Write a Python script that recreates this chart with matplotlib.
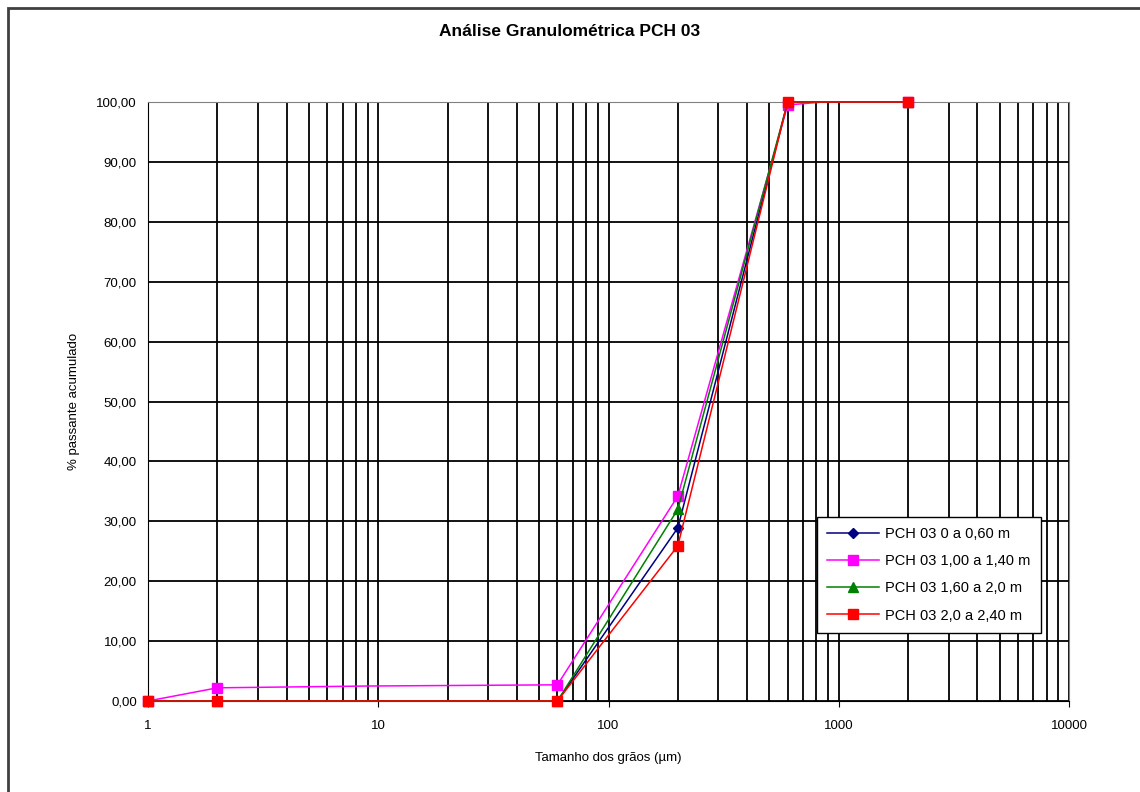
import matplotlib
matplotlib.use("Agg")
import matplotlib.pyplot as plt
from matplotlib.patches import Rectangle
from matplotlib.ticker import FuncFormatter, LogLocator, FixedLocator

plt.rcParams['font.family'] = ['Liberation Sans', 'DejaVu Sans']

# dados
x_base = [1, 2, 60, 200, 600, 2000]
y_0_060 = [0, 0, 0, 28.9, 100, 100]
x_mag = [1, 2, 9, 60, 200, 600, 850, 2000]
y_100_140 = [0, 2.2, 2.5, 2.7, 34.2, 99.5, 100, 100]
y_160_200 = [0, 0, 0, 32.0, 100, 100]
y_200_240 = [0, 0, 0, 25.9, 100, 100]
labels = ['PCH 03 0 a 0,60 m', 'PCH 03 1,00 a 1,40 m',
          'PCH 03 1,60 a 2,0 m', 'PCH 03 2,0 a 2,40 m']

fig = plt.figure(figsize=(11.4, 7.92), dpi=100)
ax = fig.add_axes([148/1140, 91/792, 921/1140, 599/792])

kw = dict(lw=1.1, clip_on=False, zorder=5)
ax.plot(x_base, y_0_060, color='#000080', marker='D', ms=5, label=labels[0], **kw)
ax.plot(x_mag, y_100_140, color='#ff00ff', marker='s', ms=7,
        markevery=[0, 1, 3, 4, 5, 7], label=labels[1], **kw)
ax.plot(x_base, y_160_200, color='#008000', marker='^', ms=7, label=labels[2], **kw)
ax.plot(x_base, y_200_240, color='#ff0000', marker='s', ms=7, label=labels[3], **kw)

ax.set_xscale('log')
ax.set_xlim(1, 10000)
ax.set_ylim(0, 100)
ax.xaxis.set_major_locator(FixedLocator([1, 10, 100, 1000, 10000]))
ax.xaxis.set_major_formatter(FuncFormatter(lambda v, p: '%d' % v))
ax.xaxis.set_minor_locator(LogLocator(base=10, subs=range(2, 10)))
ax.xaxis.set_minor_formatter(FuncFormatter(lambda v, p: ''))
ax.set_yticks(range(0, 101, 10))
ax.yaxis.set_major_formatter(FuncFormatter(lambda v, p: ('%.2f' % v).replace('.', ',')))

ax.grid(True, which='both', axis='x', color='black', lw=1.3)
ax.grid(True, which='major', axis='y', color='black', lw=1.3)
ax.set_axisbelow(True)
ax.tick_params(axis='both', which='major', labelsize=9.5, length=4, color='black')
ax.tick_params(axis='x', which='minor', length=0)
ax.tick_params(axis='y', which='major', length=0, pad=8)
ax.tick_params(axis='x', which='major', pad=10)
for s in ['top', 'right']:
    ax.spines[s].set_color('#808080')
for s in ['bottom', 'left']:
    ax.spines[s].set_color('black')

ax.set_xlabel('Tamanho dos grãos (µm)', fontsize=9.5, labelpad=14)
ax.set_ylabel('% passante acumulado', fontsize=9.5, labelpad=12)
fig.text(0.5, 1 - 32/792, 'Análise Granulométrica PCH 03', ha='center', va='center',
         fontsize=12.5, fontweight='bold')

leg = ax.legend(loc='lower right', bbox_to_anchor=(1048/1140, 152/792),
                bbox_transform=fig.transFigure, fontsize=10.5, frameon=True,
                fancybox=False, edgecolor='black', framealpha=1, borderpad=0.7,
                labelspacing=0.9, handlelength=3.6, handletextpad=0.4)
leg.get_frame().set_linewidth(1)
leg.set_zorder(10)

fig.patches.append(Rectangle((8/1140, -0.01), 1.0, 1 - 8/792 + 0.01,
                             transform=fig.transFigure, fill=False,
                             edgecolor='#404040', lw=2))

fig.savefig('out.png', dpi=100)
